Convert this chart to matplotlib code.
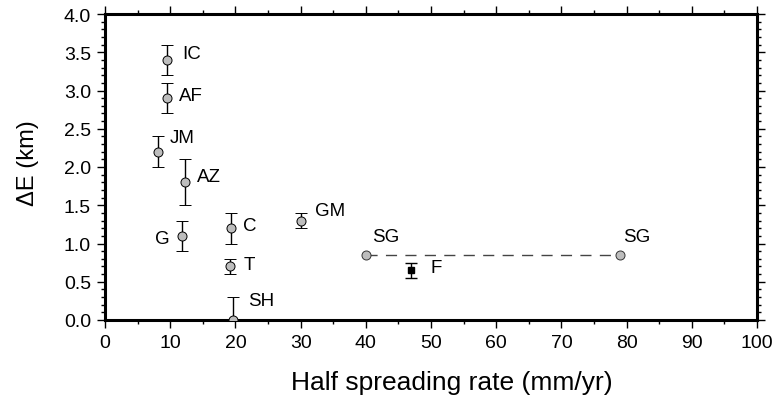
import matplotlib
matplotlib.use("Agg")
import matplotlib.pyplot as plt
from matplotlib.ticker import MultipleLocator
import numpy as np

plt.rcParams['font.family'] = ['Liberation Sans', 'DejaVu Sans']

# ridge segments: name, half spreading rate (mm/yr), dE (km), error (km)
names = ["IC", "AF", "JM", "AZ", "G", "C", "T", "SH", "GM"]
rate = [9.5, 9.5, 8.2, 12.3, 11.8, 19.3, 19.2, 19.6, 30.0]
dE = [3.4, 2.9, 2.2, 1.8, 1.1, 1.2, 0.7, 0.0, 1.3]
err = [0.2, 0.2, 0.2, 0.3, 0.2, 0.2, 0.1, 0.3, 0.1]

# label positions (data coords)
lab_x = [11.8, 11.4, 10.0, 14.1, 7.7, 21.2, 21.3, 21.9, 32.2]
lab_y = [3.48, 2.93, 2.39, 1.87, 1.07, 1.23, 0.72, 0.25, 1.43]

# SG end members joined by dashed line
sg_rate = [40.0, 79.0]
sg_dE = [0.85, 0.85]
sg_lab_x = [41.0, 79.4]
sg_lab_y = [1.09, 1.09]

# F point (black square)
f_rate = 47.0
f_dE = 0.65
f_err = 0.1

fig = plt.figure(figsize=(7.75, 4.02), dpi=100)
ax = fig.add_axes([105/775, 81/402, 652/775, 306/402])

ax.errorbar(rate, dE, yerr=err, fmt='o', color='black', mfc='#bdbdbd',
            mec='black', mew=0.7, ms=6.5, elinewidth=1.0, capsize=4,
            capthick=1.0, zorder=3)
for n, x, y in zip(names, lab_x, lab_y):
    ax.text(x, y, n, fontsize=13.5, ha='left', va='center')

ax.plot(sg_rate, sg_dE, '--', color='#444444', lw=1.0, dashes=(8, 6), zorder=2)
ax.plot(sg_rate, sg_dE, 'o', mfc='#bdbdbd', mec='#333333', mew=0.7, ms=6.5, zorder=3)
for x, y in zip(sg_lab_x, sg_lab_y):
    ax.text(x, y, "SG", fontsize=13.5, ha='left', va='center')

ax.errorbar([f_rate], [f_dE], yerr=[f_err], fmt='s', color='black', ms=5,
            elinewidth=1.0, capsize=4, capthick=1.0, zorder=3)
ax.text(50.0, 0.69, "F", fontsize=13.5, ha='left', va='center')

ax.set_xlim(0, 100)
ax.set_ylim(0, 4)
ax.xaxis.set_major_locator(MultipleLocator(10))
ax.xaxis.set_minor_locator(MultipleLocator(5))
ax.yaxis.set_major_locator(MultipleLocator(0.5))
ax.yaxis.set_minor_locator(MultipleLocator(0.1))
ax.yaxis.set_major_formatter(plt.FormatStrFormatter('%.1f'))

ax.tick_params(which='both', direction='out', top=True, right=True,
               labeltop=False, labelright=False, width=1.0, labelsize=14)
ax.tick_params(which='major', length=6, pad=4)
ax.tick_params(which='minor', length=3)
for s in ax.spines.values():
    s.set_linewidth(2.2)

fig.text(452/775, 1 - 383/402, 'Half spreading rate (mm/yr)', ha='center',
         va='center', fontsize=19)
fig.text(28/775, 1 - 163/402, '\u0394E (km)', ha='center', va='center',
         rotation='vertical', fontsize=17)

fig.savefig("out.png", dpi=100)
